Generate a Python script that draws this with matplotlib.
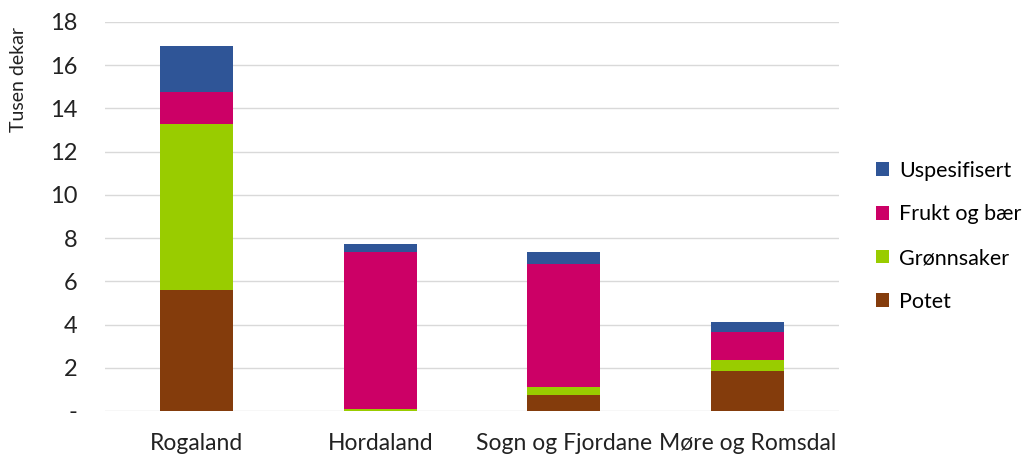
import numpy as np
import matplotlib.pyplot as plt

plt.rcParams['font.family'] = ['Lato', 'DejaVu Sans']

# Areal per fylke (tusen dekar)
fylker = ['Rogaland', 'Hordaland', 'Sogn og Fjordane', 'Møre og Romsdal']
potet = [5.60, 0.00, 0.76, 1.84]
gronnsaker = [7.70, 0.08, 0.37, 0.51]
frukt_baer = [1.45, 7.28, 5.66, 1.32]
uspesifisert = [2.15, 0.36, 0.56, 0.46]

series = [
    ('Potet', potet, '#843C0C'),
    ('Grønnsaker', gronnsaker, '#99CC00'),
    ('Frukt og bær', frukt_baer, '#CC0066'),
    ('Uspesifisert', uspesifisert, '#2F5597'),
]

fig = plt.figure(figsize=(10.35, 4.57), dpi=100)
ax = fig.add_axes([0.1014, 0.1007, 0.7092, 0.8512])

x = np.arange(len(fylker))
bottom = np.zeros(len(fylker))
for name, vals, col in series:
    ax.bar(x, vals, width=0.4, bottom=bottom, color=col, label=name, zorder=3)
    bottom += np.array(vals)

ax.set_xlim(-0.5, 3.5)
ax.set_ylim(0, 18)
yt = np.arange(0, 19, 2)
ax.set_yticks(yt)
ax.set_yticklabels(['-'] + [str(v) for v in yt[1:]], fontsize=17, color='#222222')
ax.set_xticks(x)
ax.set_xticklabels(fylker, fontsize=16.5, color='#222222')
ax.tick_params(axis='y', length=0, pad=20)
ax.tick_params(axis='x', length=0, pad=16)
ax.grid(axis='y', color='#D9D9D9', linewidth=1, zorder=0)
for s in ax.spines.values():
    s.set_visible(False)

fig.text(0.018, 0.94, 'Tusen dekar', rotation=90, va='top', ha='center',
         fontsize=14, color='#222222')

handles, labels = ax.get_legend_handles_labels()
fig.legend(handles[::-1], labels[::-1], loc='center left',
           bbox_to_anchor=(0.828, 0.483), frameon=False, fontsize=15.5,
           handlelength=0.6, handleheight=0.6, handletextpad=0.45,
           labelspacing=1.1)

fig.savefig('out.png', dpi=100)
